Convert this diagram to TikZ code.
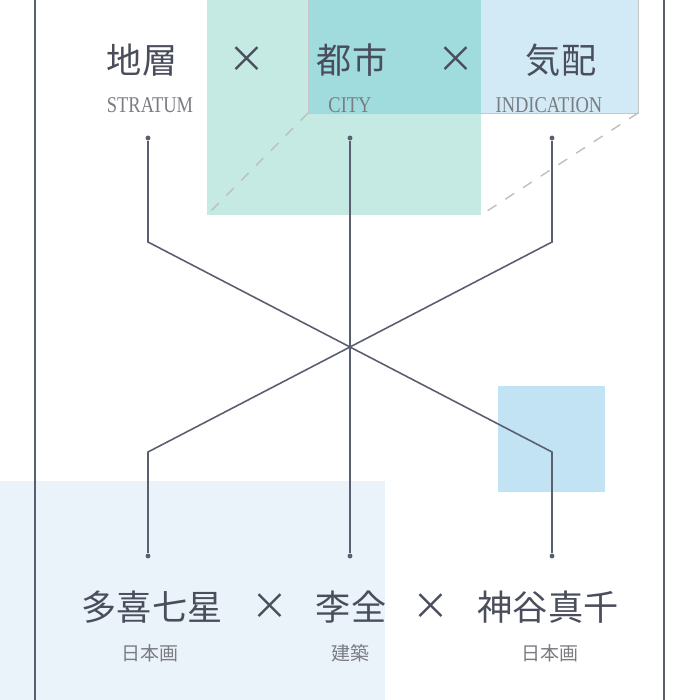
\documentclass[tikz,border=0pt]{standalone}
\usepackage{fontspec}
\setmainfont{Liberation Serif}
\newfontfamily\cjk{Noto Sans CJK JP}
\newfontfamily\latinsub[FakeStretch=0.82]{Liberation Serif}
\usetikzlibrary{positioning}
\definecolor{inkline}{HTML}{5A5F70}
\definecolor{inktext}{HTML}{4A4E5C}
\definecolor{subgray}{HTML}{7A7C82}
\definecolor{mintbox}{HTML}{C5EAE3}
\definecolor{tealbox}{HTML}{A0DCDD}
\definecolor{skybox}{HTML}{D2EAF5}
\definecolor{bluebox}{HTML}{C2E3F4}
\definecolor{palebox}{HTML}{EBF3FA}
\tikzset{
  treenode/.style = {align=center, inner sep=0pt, text centered},
  word_node/.style = {treenode, inktext, font=\cjk\fontsize{10}{12}\selectfont},% titre
  times_node/.style = {treenode, inktext, font=\cjk\fontsize{10.5}{12}\selectfont},
  en_node/.style = {treenode, subgray, font=\latinsub\fontsize{6.4}{8}\selectfont},% sous-titre
  jp_node/.style = {treenode, subgray, font=\cjk\fontsize{5.4}{7}\selectfont},
  dot_node/.style = {circle, fill=inkline, inner sep=0pt, minimum size=1.4pt},
  link/.style = {draw=inkline, line width=0.45pt},
  ghost/.style = {draw=gray!50, dashed, line width=0.4pt}
}
\begin{document}
\begin{tikzpicture}[x=0.01cm, y=-0.01cm]
  \useasboundingbox (0,0) rectangle (700,700);
  % fonds
  \fill[palebox] (0,481) rectangle (385,700);
  \fill[mintbox] (207,0) rectangle (481,215);
  \fill[skybox] (481,0) rectangle (638,113);
  \fill[tealbox] (308,0) rectangle (481,113);
  \draw[gray!45, line width=0.25pt] (308,0) -- (308,113) -- (638,113) -- (638,0);
  \fill[bluebox] (498,386) rectangle (605,492);
  \draw[ghost] (308,113) -- (207,215);
  \draw[ghost] (638,113) -- (481,215);
  % cadre
  \draw[inkline, line width=0.6pt] (35,0) -- (35,700);
  \draw[inkline, line width=0.6pt] (664,0) -- (664,700);
  % titres
  \node[word_node] (stratum) at (142,60) {地層};
  \node[times_node] (x1) at (247,60) {×};
  \node[word_node] (city) at (352,60) {都市};
  \node[times_node] (x2) at (456,60) {×};
  \node[word_node] (indication) at (561,60) {気配};
  \node[en_node] (stratum_en) at (150,105) {STRATUM};
  \node[en_node] (city_en) at (350,105) {CITY};
  \node[en_node] (indication_en) at (549,105) {INDICATION};
  % noms
  \node[word_node] (tak) at (152,607) {多喜七星};
  \node[times_node] (x3) at (270,607) {×};
  \node[word_node] (li) at (351,607) {李全};
  \node[times_node] (x4) at (431,607) {×};
  \node[word_node] (kam) at (548,607) {神谷真千};
  \node[jp_node] (tak_jp) at (150,653) {日本画};
  \node[jp_node] (li_jp) at (350,653) {建築};
  \node[jp_node] (kam_jp) at (550,653) {日本画};
  % liens
  \node[dot_node] (a1) at (148,138) {};
  \node[dot_node] (a2) at (350,138) {};
  \node[dot_node] (a3) at (552,138) {};
  \node[dot_node] (b1) at (148,556) {};
  \node[dot_node] (b2) at (350,556) {};
  \node[dot_node] (b3) at (552,556) {};
  \coordinate (k1) at (148,242);
  \coordinate (k3) at (552,242);
  \coordinate (m1) at (148,452);
  \coordinate (m3) at (552,452);
  \draw[link] (a1) -- (k1) -- (m3) -- (b3);
  \draw[link] (a3) -- (k3) -- (m1) -- (b1);
  \draw[link] (a2) -- (b2);
\end{tikzpicture}
\end{document}
